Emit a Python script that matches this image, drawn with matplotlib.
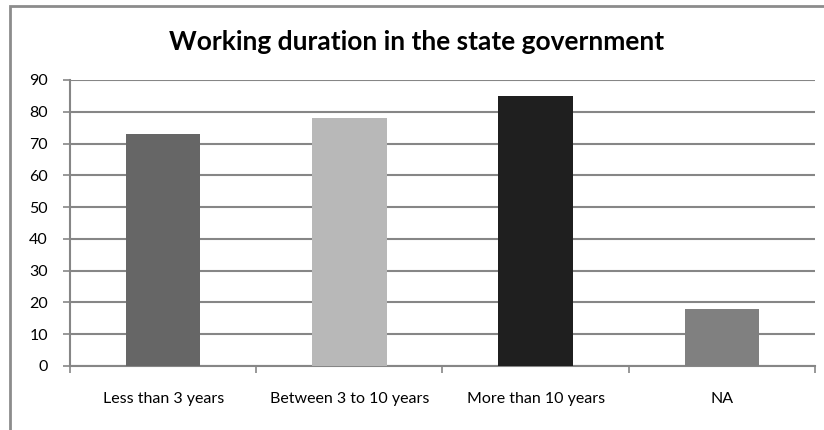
import matplotlib.pyplot as plt
from matplotlib.patches import Rectangle

categories = ['Less than 3 years', 'Between 3 to 10 years', 'More than 10 years', 'NA']
values = [73, 78, 85, 18]
colors = ['#666666', '#b8b8b8', '#1f1f1f', '#808080']

plt.rcParams['font.family'] = ['Lato', 'DejaVu Sans']

fig = plt.figure(figsize=(8.24, 4.30), dpi=100)
ax = fig.add_axes([0.085, 0.149, 0.904, 0.665])

x = range(len(categories))
ax.bar(x, values, width=0.4, color=colors, zorder=3)

ax.set_xlim(-0.5, len(categories) - 0.5)
ax.set_ylim(0, 90)
ax.set_yticks(range(0, 91, 10))
ax.yaxis.grid(True, color='#868686', linewidth=1.5, zorder=0)
ax.tick_params(axis='y', labelsize=11.5, length=5, width=1.2, color='#868686', pad=11)

# category labels between boundary ticks
ax.set_xticks([i - 0.5 for i in range(len(categories) + 1)], minor=False)
ax.set_xticklabels([])
ax.set_xticks(list(x), minor=True)
ax.set_xticklabels(categories, minor=True, fontsize=11.5)
ax.tick_params(axis='x', which='major', length=5, width=1.2, color='#868686', direction='out')
ax.tick_params(axis='x', which='minor', length=0, pad=19)

for s in ['top', 'right']:
    ax.spines[s].set_visible(False)
for s in ['left', 'bottom']:
    ax.spines[s].set_color('#868686')
    ax.spines[s].set_linewidth(1.5)

fig.text(0.506, 0.902, 'Working duration in the state government',
         ha='center', va='center', fontsize=19, fontweight='bold')

# outer chart border
fig.patches.append(Rectangle((10 / 824, -0.05), 1.0, 1.0 - 6 / 430 + 0.05,
                             transform=fig.transFigure, fill=False,
                             edgecolor='#8c8c8c', linewidth=2))

fig.savefig('out.png', dpi=100)
